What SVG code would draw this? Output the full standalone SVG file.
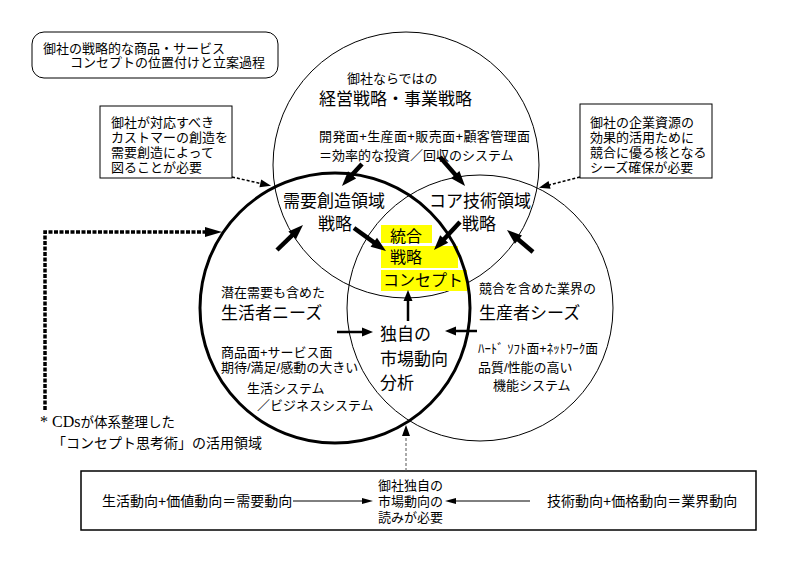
<svg xmlns="http://www.w3.org/2000/svg" width="800" height="565" viewBox="0 0 800 565">
<defs>
<style>
text{font-family:"Liberation Sans","Noto Sans CJK JP",sans-serif;fill:#000}
.s13{font-size:13px}
.s14{font-size:14px}
.s16{font-size:16px}
.s17{font-size:17px}
.thin{fill:none;stroke:#000;stroke-width:1}
.bold{fill:none;stroke:#000;stroke-width:3}
.box{fill:#fff;stroke:#000;stroke-width:1}
.yel{fill:#ffff00}
.big{fill:none;stroke:#000;stroke-width:4.5;marker-end:url(#hbig)}
.mid{fill:none;stroke:#000;stroke-width:2.5;marker-end:url(#hmid)}
.dash{fill:none;stroke:#000;stroke-width:1.5;stroke-dasharray:3 2;marker-end:url(#hsmall)}
.vdash{fill:none;stroke:#555;stroke-width:1;stroke-dasharray:3 2;marker-end:url(#hsmall)}
.dot{fill:none;stroke:#000;stroke-width:3.5;stroke-dasharray:4 1.5;marker-end:url(#hdot)}
.flat{fill:none;stroke:#000;stroke-width:1;marker-end:url(#hflat)}
</style>
<marker id="hbig" markerUnits="userSpaceOnUse" markerWidth="16" markerHeight="11" refX="1" refY="5.5" orient="auto" overflow="visible"><path d="M0,0 L15,5.5 L0,11 z" fill="#000"/></marker>
<marker id="hmid" markerUnits="userSpaceOnUse" markerWidth="12" markerHeight="9" refX="1" refY="4.5" orient="auto" overflow="visible"><path d="M0,0 L11,4.5 L0,9 z" fill="#000"/></marker>
<marker id="hsmall" markerUnits="userSpaceOnUse" markerWidth="12" markerHeight="8" refX="1" refY="4" orient="auto" overflow="visible"><path d="M0,0 L11,4 L0,8 z" fill="#000"/></marker>
<marker id="hdot" markerUnits="userSpaceOnUse" markerWidth="17" markerHeight="10" refX="1" refY="5" orient="auto" overflow="visible"><path d="M0,0 L17,5 L0,10 z" fill="#000"/></marker>
<marker id="hflat" markerUnits="userSpaceOnUse" markerWidth="11" markerHeight="6" refX="1" refY="3" orient="auto" overflow="visible"><path d="M0,0 L11,3 L0,6 z" fill="#000"/></marker>
</defs>
<rect width="800" height="565" fill="#fff"/>

<g id="title">
<rect x="32" y="32" width="246" height="46" rx="12" class="box"/>
<text class="s13" x="43" y="53">御社の戦略的な商品・サービス</text>
<text class="s13" x="70" y="67">コンセプトの位置付けと立案過程</text>
</g>

<g id="circle-top">
<circle cx="406" cy="165" r="133" class="thin"/>
<text class="s13" x="347" y="83">御社ならではの</text>
<text class="s17" x="319" y="104.5">経営戦略・事業戦略</text>
<text class="s13" x="319" y="141" textLength="211" lengthAdjust="spacing">開発面+生産面+販売面+顧客管理面</text>
<text class="s13" x="319" y="160">＝効率的な投資／回収のシステム</text>
</g>

<g id="circle-right">
<circle cx="480" cy="308" r="133" class="thin"/>
<text class="s17" x="429" y="206.5">コア技術領域</text>
<text class="s17" x="462" y="229.5">戦略</text>
<text class="s13" x="479" y="293">競合を含めた業界の</text>
<text class="s17" x="479" y="318.5">生産者シーズ</text>
<text class="s13" x="478" y="353" textLength="120" lengthAdjust="spacingAndGlyphs">ﾊｰﾄﾞ ｿﾌﾄ面+ﾈｯﾄﾜｰｸ面</text>
<text class="s13" x="478" y="372">品質/性能の高い</text>
<text class="s13" x="493" y="390">機能システム</text>
</g>

<g id="concept">
<rect x="381" y="225" width="51" height="18" class="yel"/>
<rect x="381" y="246" width="77" height="22" class="yel"/>
<rect x="381" y="270" width="86" height="21" class="yel"/>
<text class="s16" x="390" y="242">統合</text>
<text class="s16" x="390" y="263">戦略</text>
<text class="s16" x="383" y="286">コンセプト</text>
</g>

<g id="circle-left">
<circle cx="335" cy="308" r="135" class="bold"/>
<text class="s17" x="283" y="206.5">需要創造領域</text>
<text class="s17" x="318" y="229.5">戦略</text>
<text class="s13" x="221" y="297">潜在需要も含めた</text>
<text class="s17" x="221" y="318.5">生活者ニーズ</text>
<text class="s13" x="221" y="357">商品面+サービス面</text>
<text class="s13" x="221" y="372">期待/満足/感動の大きい</text>
<text class="s13" x="247" y="393">生活システム</text>
<text class="s13" x="257" y="410">／ビジネスシステム</text>
</g>

<g id="analysis">
<text class="s17" x="380" y="339.5">独自の</text>
<text class="s17" x="380" y="364.5">市場動向</text>
<text class="s17" x="380" y="388.5">分析</text>
</g>

<g id="box-left">
<rect x="100" y="106" width="132" height="72" class="box"/>
<text class="s13" x="111" y="127">御社が対応すべき</text>
<text class="s13" x="111" y="142">カストマーの創造を</text>
<text class="s13" x="111" y="157">需要創造によって</text>
<text class="s13" x="111" y="172">図ることが必要</text>
</g>

<g id="box-right">
<rect x="580" y="104" width="132" height="74" class="box"/>
<text class="s13" x="590" y="127">御社の企業資源の</text>
<text class="s13" x="590" y="142">効果的活用ために</text>
<text class="s13" x="590" y="157">競合に優る核となる</text>
<text class="s13" x="590" y="172">シーズ確保が必要</text>
</g>

<g id="note">
<text x="40" y="427"><tspan style="font-family:'Liberation Serif',serif;font-size:16px">* CDs</tspan><tspan style="font-size:13.5px">が体系整理した</tspan></text>
<text class="s14" x="52" y="448">「コンセプト思考術」の活用領域</text>
</g>

<g id="box-bottom">
<rect x="81" y="471" width="675" height="59" fill="#fff" stroke="#000" stroke-width="1.5"/>
<text class="s14" x="102" y="506">生活動向+価値動向＝需要動向</text>
<text class="s13" x="378" y="490">御社独自の</text>
<text class="s13" x="378" y="506">市場動向の</text>
<text class="s13" x="378" y="522">読みが必要</text>
<text class="s14" x="547" y="506">技術動向+価格動向＝業界動向</text>
</g>

<g id="connectors">
<path class="big" d="M362,164 L351.4,175.6"/>
<path class="big" d="M440,157 L455.9,175.4"/>
<path class="big" d="M354,228 L374.6,242.8"/>
<path class="big" d="M460,222 L443.5,239.7"/>
<path class="big" d="M277,250 L292.9,234.7"/>
<path class="big" d="M533,252 L517.7,239"/>
<path class="mid" d="M408,321 L408,300"/>
<path class="mid" d="M337,332 L363,332"/>
<path class="mid" d="M477,331 L455,331"/>
<path class="vdash" d="M406,471 L406,435"/>
<path class="dash" d="M232,177 L261.3,183.6"/>
<path class="dash" d="M580,177 L548.6,185.2"/>
<path class="dot" d="M45,410 L45,232 L206,232"/>
<path class="flat" d="M293,501 L363,501"/>
<path class="flat" d="M530,501 L455,501"/>
</g>
</svg>
